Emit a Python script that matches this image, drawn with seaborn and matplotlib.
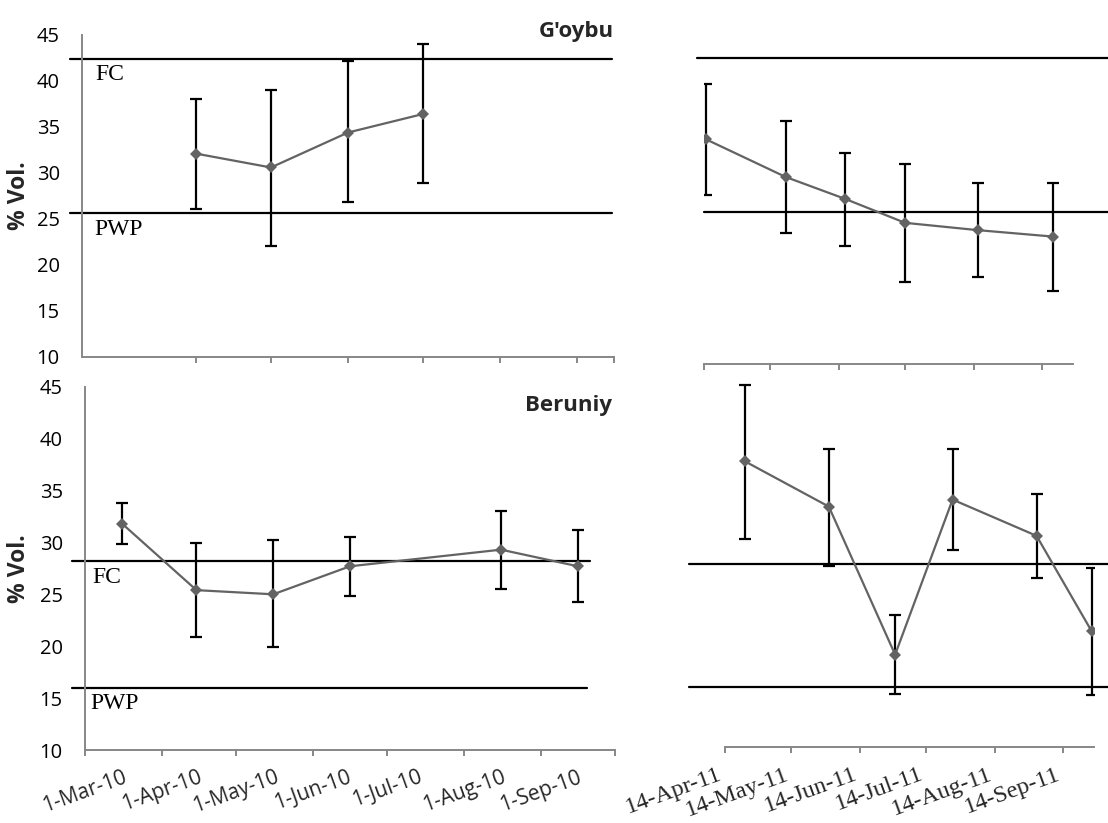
import matplotlib
matplotlib.use("Agg")
import matplotlib.pyplot as plt
import numpy as np
import pandas as pd
import seaborn as sns

# ---- soil moisture, % by volume: mean with min/max range ----
goybu_2010_dates = ["2010-04-16", "2010-05-16", "2010-06-16", "2010-07-16"]
goybu_2010_mean = [32.1, 30.6, 34.4, 36.4]
goybu_2010_upper = [38.0, 39.0, 42.2, 44.0]
goybu_2010_lower = [26.1, 22.1, 26.8, 28.9]

goybu_2011_dates = ["2011-04-15", "2011-05-21", "2011-06-17", "2011-07-14",
                    "2011-08-16", "2011-09-19"]
goybu_2011_mean = [33.5, 29.4, 27.0, 24.4, 23.6, 22.9]
goybu_2011_upper = [39.6, 35.5, 32.0, 30.8, 28.7, 28.8]
goybu_2011_lower = [27.4, 23.3, 21.9, 18.0, 18.5, 17.0]

beruniy_2010_dates = ["2010-03-16", "2010-04-15", "2010-05-16", "2010-06-16",
                      "2010-08-16", "2010-09-16"]
beruniy_2010_mean = [31.8, 25.4, 25.0, 27.7, 29.3, 27.7]
beruniy_2010_upper = [33.8, 29.9, 30.2, 30.5, 33.0, 31.2]
beruniy_2010_lower = [29.8, 20.9, 19.9, 24.8, 25.5, 24.3]

beruniy_2011_dates = ["2011-04-23", "2011-05-31", "2011-06-30", "2011-07-26",
                      "2011-09-02", "2011-09-27"]
beruniy_2011_mean = [38.4, 33.9, 19.2, 34.6, 31.0, 21.5]
beruniy_2011_upper = [46.0, 39.6, 23.1, 39.6, 35.2, 27.8]
beruniy_2011_lower = [30.7, 28.0, 15.3, 29.6, 26.8, 15.2]

# field capacity and permanent wilting point per site
fc_goybu, pwp_goybu = 42.4, 25.6
fc_beruniy, pwp_beruniy = 28.2, 16.0

site_names = ["G'oybu", "Beruniy"]
ref_names = ["FC", "PWP"]
y_ticks = [10, 15, 20, 25, 30, 35, 40, 45]
x_labels_2010 = ["1-Mar-10", "1-Apr-10", "1-May-10", "1-Jun-10",
                 "1-Jul-10", "1-Aug-10", "1-Sep-10"]
x_labels_2011 = ["14-Apr-11", "14-May-11", "14-Jun-11", "14-Jul-11",
                 "14-Aug-11", "14-Sep-11"]

# ---- styling ----
sns.set_style("white")
plt.rcParams["font.family"] = ["Open Sans", "DejaVu Sans"]
SANS = ["Open Sans", "DejaVu Sans"]
SERIF = ["Liberation Serif", "DejaVu Serif"]
AXIS_GREY = "#878787"
SERIES_GREY = "#636363"

W, H = 1108, 823
fig = plt.figure(figsize=(W / 100, H / 100), dpi=100)


def box(left, top, right, bottom):
    return [left / W, 1 - bottom / H, (right - left) / W, (bottom - top) / H]


ax_tl = fig.add_axes(box(82, 35, 614, 357))
ax_tr = fig.add_axes(box(704, 34, 1073, 364))
ax_bl = fig.add_axes(box(85, 386.7, 615, 750))
ax_br = fig.add_axes(box(725, 374.7, 1094, 747.3))

lim_2010 = (pd.Timestamp("2010-03-01"), pd.Timestamp("2010-10-01"))
lim_2011 = (pd.Timestamp("2011-04-14"), pd.Timestamp("2011-09-28"))


def draw_series(ax, dates, mean, lower, upper):
    d = pd.to_datetime(dates)
    m = np.array(mean)
    lo = m - np.array(lower)
    hi = np.array(upper) - m
    ax.errorbar(d, m, yerr=[lo, hi], fmt="none", ecolor="black",
                elinewidth=1.6, capsize=4.5, capthick=1.6, zorder=2)
    df = pd.DataFrame({"date": d, "vol": m})
    sns.lineplot(data=df, x="date", y="vol", ax=ax, color=SERIES_GREY,
                 marker="D", markersize=6, markeredgewidth=0,
                 linewidth=1.6, zorder=3)
    ax.set_xlabel("")
    ax.set_ylabel("")


def style_axes(ax, show_y):
    for side in ("top", "right"):
        ax.spines[side].set_visible(False)
    ax.spines["bottom"].set_color(AXIS_GREY)
    ax.spines["bottom"].set_linewidth(1.4)
    if show_y:
        ax.spines["left"].set_color(AXIS_GREY)
        ax.spines["left"].set_linewidth(1.4)
        ax.set_yticks(y_ticks)
        ax.tick_params(axis="y", length=0, pad=16, labelsize=14.5,
                       labelcolor="black")
    else:
        ax.spines["left"].set_visible(False)
        ax.tick_params(axis="y", left=False, labelleft=False)
    ax.tick_params(axis="x", direction="out", length=4, width=1.4,
                   color=AXIS_GREY, bottom=True)
    ax.set_facecolor("none")


def ref_line(ax, value, xmin, xmax):
    ax.axhline(value, xmin=xmin, xmax=xmax, color="black", lw=1.6,
               clip_on=False, zorder=1)


def ref_text(ax, value, text, x):
    ax.annotate(text, xy=(x, value), xycoords=("axes fraction", "data"),
                xytext=(0, -4), textcoords="offset points",
                ha="left", va="top", fontsize=17, family=SERIF,
                color="black")


# ---- G'oybu 2010 ----
draw_series(ax_tl, goybu_2010_dates, goybu_2010_mean,
            goybu_2010_lower, goybu_2010_upper)
ax_tl.set_xlim(*lim_2010)
ax_tl.set_ylim(10, 45)
style_axes(ax_tl, True)
tl_ticks = list(pd.date_range("2010-04-16", periods=6,
                              freq=pd.DateOffset(months=1))) + [lim_2010[1]]
ax_tl.set_xticks(tl_ticks)
ax_tl.tick_params(axis="x", labelbottom=False)
ref_line(ax_tl, fc_goybu, -0.023, 0.996)
ref_line(ax_tl, pwp_goybu, -0.023, 0.996)
ref_text(ax_tl, fc_goybu, ref_names[0], 0.026)
ref_text(ax_tl, pwp_goybu, ref_names[1], 0.024)
ax_tl.text(1.0, 0.994, site_names[0], transform=ax_tl.transAxes,
           ha="right", va="baseline", fontsize=16, fontweight="bold",
           family=SANS)

# ---- G'oybu 2011 ----
draw_series(ax_tr, goybu_2011_dates, goybu_2011_mean,
            goybu_2011_lower, goybu_2011_upper)
ax_tr.set_xlim(*lim_2011)
ax_tr.set_ylim(9, 45)
style_axes(ax_tr, False)
ax_tr.set_xticks(pd.to_datetime(x_labels_2011, format="%d-%b-%y"))
ax_tr.tick_params(axis="x", labelbottom=False)
ref_line(ax_tr, fc_goybu, -0.019, 1.1)
ref_line(ax_tr, pwp_goybu, 0.0, 1.1)

# ---- Beruniy 2010 ----
draw_series(ax_bl, beruniy_2010_dates, beruniy_2010_mean,
            beruniy_2010_lower, beruniy_2010_upper)
ax_bl.set_xlim(*lim_2010)
ax_bl.set_ylim(10, 45)
style_axes(ax_bl, True)
bl_ticks = list(pd.to_datetime(x_labels_2010, format="%d-%b-%y")) + [lim_2010[1]]
ax_bl.set_xticks(bl_ticks)
ax_bl.set_xticklabels(x_labels_2010 + [""], rotation=20, ha="center",
                      fontsize=15, family=SANS)
ax_bl.tick_params(axis="x", pad=8)
ref_line(ax_bl, fc_beruniy, -0.025, 0.953)
ref_line(ax_bl, pwp_beruniy, -0.025, 0.947)
ref_text(ax_bl, fc_beruniy, ref_names[0], 0.013)
ref_text(ax_bl, pwp_beruniy, ref_names[1], 0.010)
ax_bl.text(0.995, 0.933, site_names[1], transform=ax_bl.transAxes,
           ha="right", va="baseline", fontsize=16, fontweight="bold",
           family=SANS)

# ---- Beruniy 2011 ----
draw_series(ax_br, beruniy_2011_dates, beruniy_2011_mean,
            beruniy_2011_lower, beruniy_2011_upper)
ax_br.set_xlim(*lim_2011)
ax_br.set_ylim(10, 47)
style_axes(ax_br, False)
ax_br.set_xticks(pd.to_datetime(x_labels_2011, format="%d-%b-%y"))
ax_br.set_xticklabels(x_labels_2011, rotation=20, ha="right",
                      fontsize=17.5, family=SERIF)
ax_br.tick_params(axis="x", pad=8)
ref_line(ax_br, fc_beruniy, -0.098, 1.04)
ref_line(ax_br, pwp_beruniy, -0.098, 1.04)

# y-axis titles
for ax in (ax_tl, ax_bl):
    pos = ax.get_position()
    fig.text(19 / W, (pos.y0 + pos.y1) / 2, "% Vol.", rotation=90,
             ha="center", va="center", fontsize=16.5, fontweight="bold",
             family=SANS)

fig.savefig("out.png", dpi=100)
